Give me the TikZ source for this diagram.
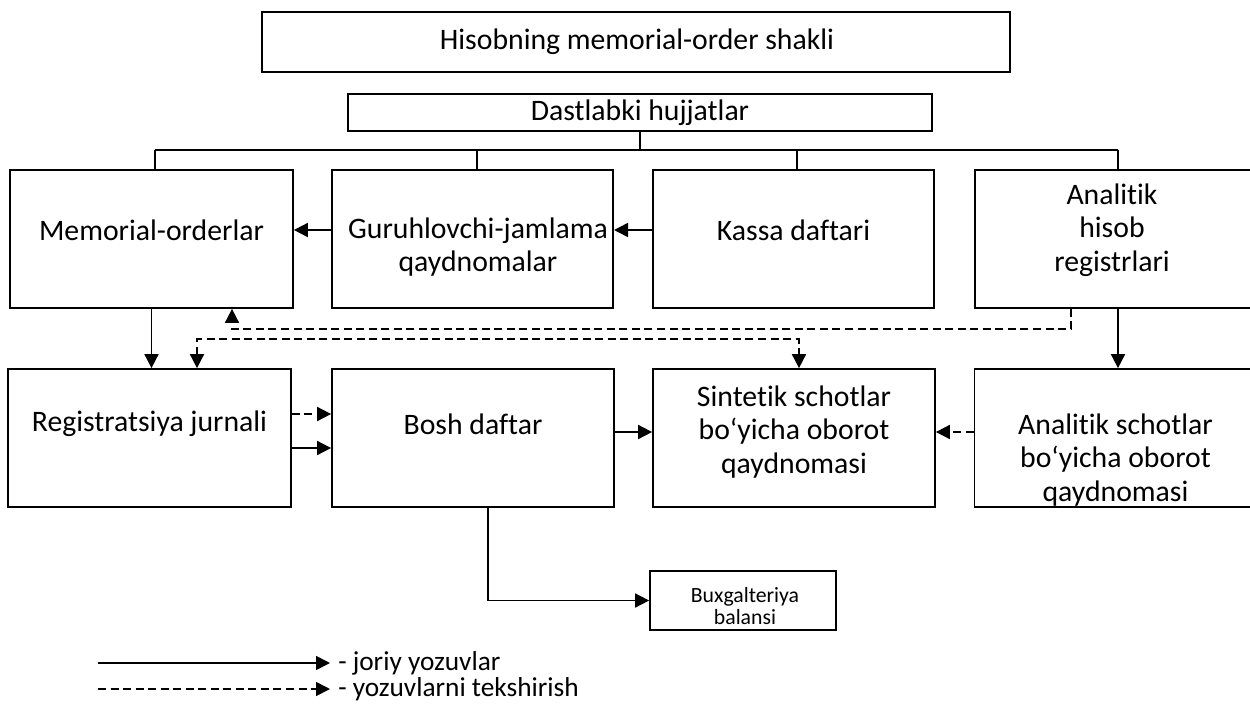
\documentclass[tikz,border=0pt]{standalone}
\usepackage{fontspec}
\setmainfont{Carlito}[Ligatures=NoCommon]
\usetikzlibrary{arrows.meta,calc}
\begin{document}
\begin{tikzpicture}[x=0.75pt,y=-0.75pt,
  box/.style={draw,line width=1.3pt,inner sep=0pt},
  rowbox/.style={box,minimum width=211pt,minimum height=103.5pt},
  lbl/.style={align=center,inner sep=0pt,font=\fontsize{22.3}{25.2}\selectfont},
  small/.style={align=center,inner sep=0pt,font=\fontsize{16.3}{16.5}\selectfont},
  legend/.style={anchor=west,inner ysep=0pt,inner xsep=6pt,font=\fontsize{20.5}{22}\selectfont},
  conn/.style={line width=1.3pt,-{Triangle[length=10.5pt,width=10.5pt]}},
  dsh/.style={conn,dash pattern=on 6pt off 3.4pt},
  plain/.style={line width=1.3pt}]
\useasboundingbox (0,0) rectangle (1250,715);

% headings
\node[box,minimum width=561pt,minimum height=45pt] (title) at (636,42) {};
\node[lbl] (title-t) at (637,42) {Hisobning memorial-order shakli};
\node[box,lbl,minimum width=438pt,minimum height=27.75pt] (dst) at (640,112.5) {Dastlabki hujjatlar};

% first row
\node[rowbox,minimum width=212.25pt] (mem) at (151.5,239) {};
\node[rowbox] (gur) at (472.5,239) {};
\node[rowbox] (kas) at (793.5,239) {};
\node[rowbox] (anh) at (1115.5,239) {};
\node[lbl] (mem-t) at (151.5,230) {Memorial-orderlar};
\node[lbl] (gur-t) at (478,247) {Guruhlovchi-jamlama\\qaydnomalar};
\node[lbl] (kas-t) at (793.5,230) {Kassa daftari};
\node[lbl] (anh-t) at (1112,230) {Analitik\\hisob\\registrlari};

% second row
\node[rowbox,minimum width=212.25pt] (reg) at (149.5,438) {};
\node[rowbox,minimum width=211.5pt] (bosh) at (473,438) {};
\node[rowbox,minimum width=211.5pt] (sin) at (794,438) {};
\node[rowbox,minimum width=211.5pt] (ans) at (1115.5,438) {};
\node[lbl] (reg-t) at (149.5,424) {Registratsiya jurnali};
\node[lbl] (bosh-t) at (473,424) {Bosh daftar};
\node[lbl] (sin-t) at (794,432) {Sintetik schotlar\\bo‘yicha oborot\\qaydnomasi};
\node[lbl] (ans-t) at (1115.5,460) {Analitik schotlar\\bo‘yicha oborot\\qaydnomasi};

% balance sheet
\node[box,minimum width=139.5pt,minimum height=44.25pt] (bux) at (743,600.5) {};
\node[small] (bux-t) at (745,606) {Buxgalteriya\\balansi};

% distribution bus from the source documents
\coordinate (bus) at (0,150);
\coordinate (m1) at ($(mem.north)+(3.5,0)$);
\coordinate (g1) at ($(gur.north)+(4.5,0)$);
\coordinate (k1) at ($(kas.north)+(3.5,0)$);
\coordinate (a1) at ($(anh.north)+(2.5,0)$);
\draw[plain] (dst.south) -- (dst.south |- bus);
\draw[plain] (m1 |- bus) -- (a1 |- bus);
\foreach \c in {m1,g1,k1,a1} \draw[plain] (\c |- bus) -- (\c);

% regular postings
\draw[conn] ($(gur.west)+(0,-9)$) -- ($(mem.east)+(0,-9)$);
\draw[conn] ($(kas.west)+(0,-9)$) -- ($(gur.east)+(0,-9)$);
\draw[conn] (mem.south) -- (mem.south |- reg.north);
\coordinate (a2) at ($(anh.south)+(2.5,0)$);
\draw[conn] (a2) -- (a2 |- ans.north);
\draw[conn] ($(reg.east)+(0,10)$) -- ($(bosh.west)+(0,10)$);
\draw[conn] ($(bosh.east)+(0,-6)$) -- ($(sin.west)+(0,-6)$);
\draw[conn] ($(bosh.south)+(15,0)$) |- (bux.west);

% checking entries
\coordinate (c1) at (1071,329);
\draw[dsh] (anh.south -| c1) -- (c1) -| ($(mem.south)+(80.5,0)$);
\coordinate (c2) at (197,339);
\draw[dsh,{Triangle[length=10.5pt,width=10.5pt]}-{Triangle[length=10.5pt,width=10.5pt]}]
  ($(reg.north)+(47.5,0)$) -- (c2) -| ($(sin.north)+(5,0)$);
\draw[dsh] ($(reg.east)+(0,-24)$) -- ($(bosh.west)+(0,-24)$);
\draw[dsh] ($(ans.west)+(0,-6)$) -- ($(sin.east)+(0,-6)$);

% legend
\node[legend] (leg1) at (330,663) {- joriy yozuvlar};
\node[legend] (leg2) at (330,689) {- yozuvlarni tekshirish};
\coordinate (l1) at (98,663);
\coordinate (l2) at (98,689);
\draw[conn] (l1) -- (leg1.west);
\draw[dsh] (l2) -- (leg2.west);
\end{tikzpicture}
\end{document}
